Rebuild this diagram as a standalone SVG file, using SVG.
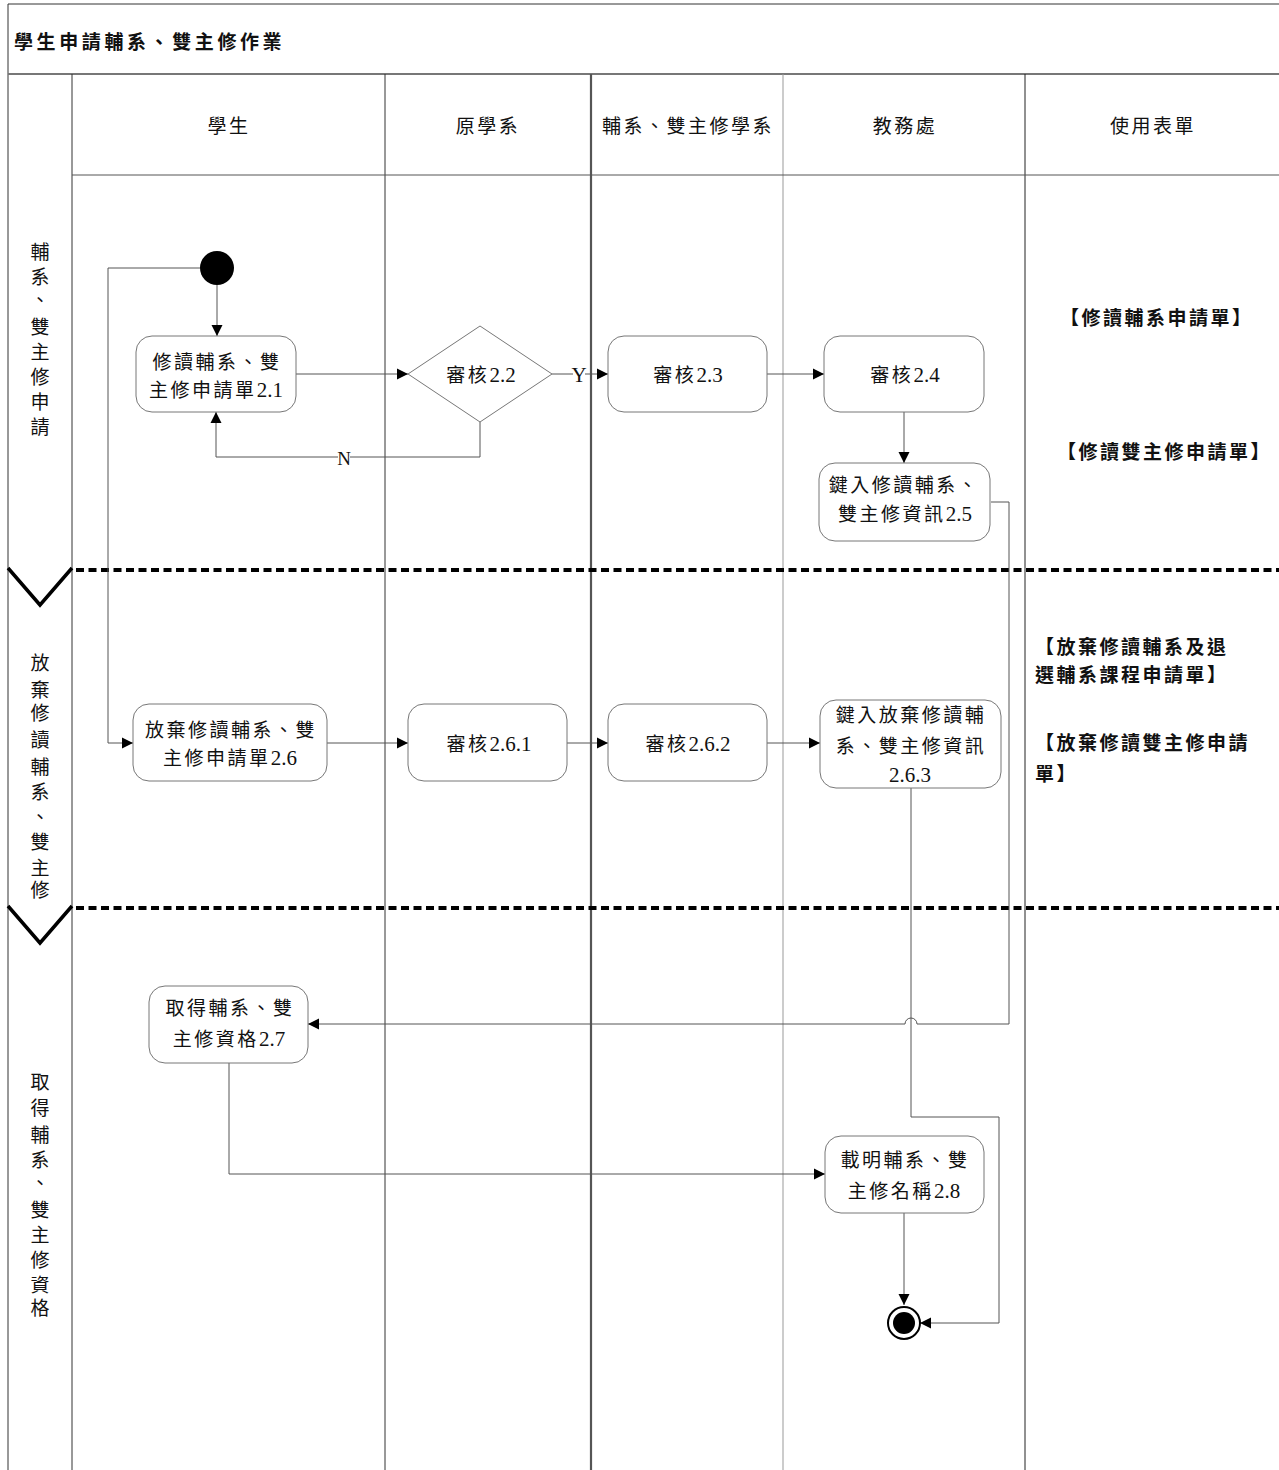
<svg xmlns="http://www.w3.org/2000/svg" width="1279" height="1470" viewBox="0 0 1279 1470">
<style>
.t{font-family:"Liberation Serif","Noto Sans CJK TC",serif;font-size:19px;fill:#111;letter-spacing:2.5px}
.c{text-anchor:middle}
.b{font-weight:bold;letter-spacing:2.5px}
.n{letter-spacing:0;font-size:21px}
.v{font-family:"Liberation Serif","Noto Sans CJK TC",serif;font-size:19px;fill:#111;text-anchor:middle}
.node{fill:#fff;stroke:#777;stroke-width:1}
.conn{fill:none;stroke:#555;stroke-width:1}
.lane{stroke:#333;stroke-width:1;fill:none}
.div{stroke:#000;stroke-width:4;stroke-dasharray:8 4.5;fill:none}
.chev{stroke:#000;stroke-width:3.5;fill:none}
</style>
<defs>
<marker id="ah" markerUnits="userSpaceOnUse" markerWidth="12" markerHeight="12" refX="11" refY="6" orient="auto">
<path d="M0,0.5 L11,6 L0,11.5 z" fill="#000"/>
</marker>
</defs>
<rect x="0" y="0" width="1279" height="1470" fill="#fff"/>
<g id="frame">
<line class="lane" x1="8" y1="4" x2="1279" y2="4"/>
<line class="lane" x1="8" y1="4" x2="8" y2="1470"/>
<line x1="8" y1="74" x2="1279" y2="74" stroke="#777" stroke-width="2"/>
<line class="lane" x1="72" y1="74" x2="72" y2="1470"/>
<line class="lane" x1="385" y1="74" x2="385" y2="1470"/>
<line x1="591" y1="74" x2="591" y2="1470" stroke="#555" stroke-width="2.2"/>
<line x1="783" y1="74" x2="783" y2="1470" stroke="#999" stroke-width="1"/>
<line x1="1025" y1="74" x2="1025" y2="1470" stroke="#222" stroke-width="1"/>
<line x1="72" y1="175" x2="1279" y2="175" stroke="#555" stroke-width="1"/>
<text class="t b" x="14" y="49" style="letter-spacing:3.6px">學生申請輔系、雙主修作業</text>
<text class="t c" x="229" y="133">學生</text>
<text class="t c" x="488" y="133">原學系</text>
<text class="t c" x="688" y="133">輔系、雙主修學系</text>
<text class="t c" x="905" y="133">教務處</text>
<text class="t c" x="1153" y="133">使用表單</text>
</g>
<g id="phases">
<line class="div" x1="76" y1="570" x2="1279" y2="570"/>
<line class="div" x1="76" y1="908" x2="1279" y2="908"/>
<polyline class="chev" points="8,568 40,605 72,568"/>
<polyline class="chev" points="8,906 40,943 72,906"/>
<text class="v"><tspan x="40" y="259">輔</tspan><tspan x="40" y="284">系</tspan><tspan x="40" y="307">、</tspan><tspan x="40" y="334">雙</tspan><tspan x="40" y="359">主</tspan><tspan x="40" y="384">修</tspan><tspan x="40" y="409">申</tspan><tspan x="40" y="434">請</tspan></text>
<text class="v"><tspan x="40" y="670">放</tspan><tspan x="40" y="697">棄</tspan><tspan x="40" y="720">修</tspan><tspan x="40" y="747">讀</tspan><tspan x="40" y="774">輔</tspan><tspan x="40" y="799">系</tspan><tspan x="40" y="824">、</tspan><tspan x="40" y="849">雙</tspan><tspan x="40" y="875">主</tspan><tspan x="40" y="897">修</tspan></text>
<text class="v"><tspan x="40" y="1089">取</tspan><tspan x="40" y="1115">得</tspan><tspan x="40" y="1142">輔</tspan><tspan x="40" y="1167">系</tspan><tspan x="40" y="1190">、</tspan><tspan x="40" y="1217">雙</tspan><tspan x="40" y="1242">主</tspan><tspan x="40" y="1267">修</tspan><tspan x="40" y="1292">資</tspan><tspan x="40" y="1315">格</tspan></text>
</g>
<g id="forms">
<text class="t b" x="1060" y="325">【修讀輔系申請單】</text>
<text class="t b" x="1057" y="459">【修讀雙主修申請單】</text>
<text class="t b" x="1035" y="654">【放棄修讀輔系及退</text>
<text class="t b" x="1035" y="682">選輔系課程申請單】</text>
<text class="t b" x="1035" y="750">【放棄修讀雙主修申請</text>
<text class="t b" x="1035" y="781">單】</text>
</g>
<g id="connectors">
<path class="conn" d="M217,285 L217,336" marker-end="url(#ah)"/>
<path class="conn" d="M200,268 L108,268 L108,743 L133,743" marker-end="url(#ah)"/>
<path class="conn" d="M296,374 L408,374" marker-end="url(#ah)"/>
<path class="conn" d="M552,374 L608,374" marker-end="url(#ah)"/>
<rect x="573" y="364" width="12" height="20" fill="#fff"/>
<text class="t c" x="579" y="382" style="letter-spacing:0;font-size:21px">Y</text>
<path class="conn" d="M480,422 L480,457 L216,457 L216,412" marker-end="url(#ah)"/>
<rect x="338" y="448" width="12" height="20" fill="#fff"/>
<text class="t c" x="344" y="465" style="letter-spacing:0">N</text>
<path class="conn" d="M767,374 L824,374" marker-end="url(#ah)"/>
<path class="conn" d="M904,412 L904,463" marker-end="url(#ah)"/>
<path class="conn" d="M991,502 L1009,502 L1009,1024 L917,1024 A6,6 0 0 0 905,1024 L308,1024" marker-end="url(#ah)"/>
<path class="conn" d="M327,743 L408,743" marker-end="url(#ah)"/>
<path class="conn" d="M567,743 L608,743" marker-end="url(#ah)"/>
<path class="conn" d="M767,743 L820,743" marker-end="url(#ah)"/>
<path class="conn" d="M911,788 L911,1117 L999,1117 L999,1323 L920,1323" marker-end="url(#ah)"/>
<path class="conn" d="M229,1063 L229,1174 L825,1174" marker-end="url(#ah)"/>
<path class="conn" d="M904,1213 L904,1305" marker-end="url(#ah)"/>
</g>
<g id="start"><circle cx="217" cy="268" r="17" fill="#000"/></g>
<g id="n2_1"><rect class="node" x="136" y="336" width="160" height="76" rx="16"/>
<text class="t c" x="217" y="369">修讀輔系、雙</text><text class="t c" x="216" y="397">主修申請單<tspan class="n">2.1</tspan></text></g>
<g id="n2_2"><polygon class="node" points="408,374 480,326 552,374 480,422"/>
<text class="t c" x="481" y="382">審核<tspan class="n">2.2</tspan></text></g>
<g id="n2_3"><rect class="node" x="608" y="336" width="159" height="76" rx="16"/>
<text class="t c" x="688" y="382">審核<tspan class="n">2.3</tspan></text></g>
<g id="n2_4"><rect class="node" x="824" y="336" width="160" height="76" rx="16"/>
<text class="t c" x="905" y="382">審核<tspan class="n">2.4</tspan></text></g>
<g id="n2_5"><rect class="node" x="819" y="463" width="171" height="78" rx="16"/>
<text class="t c" x="904" y="492">鍵入修讀輔系、</text><text class="t c" x="905" y="521">雙主修資訊<tspan class="n">2.5</tspan></text></g>
<g id="n2_6"><rect class="node" x="133" y="704" width="194" height="77" rx="16"/>
<text class="t c" x="231" y="737">放棄修讀輔系、雙</text><text class="t c" x="230" y="765">主修申請單<tspan class="n">2.6</tspan></text></g>
<g id="n2_6_1"><rect class="node" x="408" y="704" width="159" height="77" rx="16"/>
<text class="t c" x="489" y="751">審核<tspan class="n">2.6.1</tspan></text></g>
<g id="n2_6_2"><rect class="node" x="608" y="704" width="159" height="77" rx="16"/>
<text class="t c" x="688" y="751">審核<tspan class="n">2.6.2</tspan></text></g>
<g id="n2_6_3"><rect class="node" x="820" y="700" width="181" height="88" rx="16"/>
<text class="t c" x="911" y="722">鍵入放棄修讀輔</text><text class="t c" x="911" y="753">系、雙主修資訊</text><text class="t c" x="910" y="782"><tspan class="n">2.6.3</tspan></text></g>
<g id="n2_7"><rect class="node" x="149" y="986" width="159" height="77" rx="16"/>
<text class="t c" x="230" y="1015">取得輔系、雙</text><text class="t c" x="229" y="1046">主修資格<tspan class="n">2.7</tspan></text></g>
<g id="n2_8"><rect class="node" x="825" y="1136" width="159" height="77" rx="16"/>
<text class="t c" x="905" y="1167">載明輔系、雙</text><text class="t c" x="904" y="1198">主修名稱<tspan class="n">2.8</tspan></text></g>
<g id="end"><circle cx="904" cy="1323" r="16" fill="#fff" stroke="#000" stroke-width="2"/><circle cx="904" cy="1323" r="11" fill="#000"/></g>
</svg>
